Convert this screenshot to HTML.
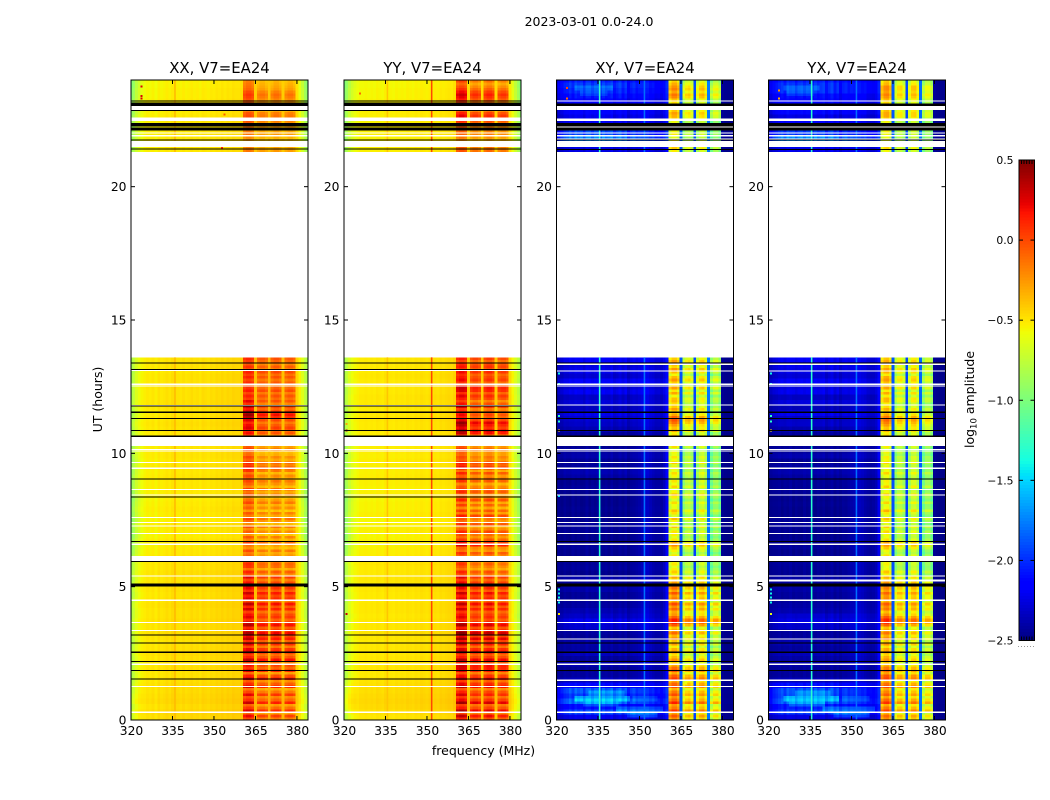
<!DOCTYPE html>
<html lang="en">
<head>
<meta charset="utf-8">
<title>2023-03-01 0.0-24.0 amplitude spectrograms</title>
<style>
html,body{margin:0;padding:0;background:#fff;width:1050px;height:800px;overflow:hidden}
svg{display:block}
text{font-family:"DejaVu Sans","Liberation Sans",sans-serif;fill:#000}
</style>
</head>
<body>
<svg id="figure" xmlns="http://www.w3.org/2000/svg" width="1050" height="800" viewBox="0 0 1050 800">
  <rect width="1050" height="800" fill="#fff"/>
  <text x="589" y="26" font-size="12.5" text-anchor="middle">2023-03-01 0.0-24.0</text>
  <text x="483.5" y="755" font-size="12.5" text-anchor="middle">frequency (MHz)</text>
  <text transform="translate(102,399.5) rotate(-90)" font-size="12.5" text-anchor="middle">UT (hours)</text>
  <text transform="translate(974,399.5) rotate(-90)" font-size="12.5" text-anchor="middle">log<tspan font-size="8.5" dy="2.5">10</tspan><tspan dy="-2.5"> amplitude</tspan></text>
  <g id="panels"></g>
  <g id="colorbar"></g>
</svg>
<script>
// ---------- axis data ----------
const panelTitles = ['XX, V7=EA24', 'YY, V7=EA24', 'XY, V7=EA24', 'YX, V7=EA24'];
const xTickLabels = [320, 335, 350, 365, 380];
const yTickLabels = [0, 5, 10, 15, 20];
const colorbarTicks = [0.5, 0.0, -0.5, -1.0, -1.5, -2.0, -2.5];
const freqDomain = [320, 384];
const hourDomain = [0, 24];
const colorDomain = [-2.5, 0.5];

// observed scans: start hour and number of 0.1 h rows
const scanStarts = [0, 21.3];
const scanRowCounts = [136, 27];

// channels (1 MHz each) carrying the strong in-band signal
const bandChannels = [41, 42, 43, 44, 46, 47, 48, 49, 51, 52, 53, 54, 56, 57, 58, 59];
const leadChannels = [41, 42, 43, 44];

// ---------- log10 amplitude per channel ----------
const xxChannels = [-.85,-.75,-.65,-.59,-.55,-.53,-.51,-.52,-.5,-.53,-.49,-.51,-.5,-.48,-.5,-.47,-.48,-.49,-.5,-.48,-.5,-.49,-.47,-.49,-.48,-.5,-.47,-.48,-.49,-.47,-.48,-.46,-.47,-.45,-.47,-.45,-.46,-.44,-.45,-.45,-.43,-.2,-.15,-.15,-.2,-.38,-.29,-.24,-.24,-.29,-.36,-.28,-.22,-.22,-.27,-.38,-.29,-.24,-.24,-.29,-.44,-.54,-.64,-.76,-.85];
const yyChannels = [-.87,-.76,-.66,-.6,-.56,-.54,-.52,-.52,-.51,-.52,-.51,-.52,-.5,-.51,-.52,-.49,-.5,-.51,-.52,-.5,-.51,-.5,-.51,-.49,-.5,-.51,-.49,-.5,-.48,-.49,-.5,-.48,-.49,-.48,-.49,-.47,-.48,-.47,-.46,-.47,-.44,-.12,-.07,-.07,-.12,-.42,-.22,-.16,-.16,-.22,-.42,-.18,-.12,-.12,-.18,-.42,-.24,-.18,-.18,-.24,-.46,-.56,-.66,-.76,-.87];
const xyChannels = [-2.5,-2.46,-2.48,-2.45,-2.47,-2.48,-2.44,-2.47,-2.45,-2.48,-2.47,-2.44,-2.48,-2.45,-2.47,-2.44,-2.46,-2.47,-2.45,-2.48,-2.44,-2.47,-2.48,-2.45,-2.47,-2.44,-2.48,-2.45,-2.44,-2.42,-2.4,-2.36,-2.32,-2.32,-2.36,-2.4,-2.42,-2.42,-2.42,-2.36,-2.2,-.6,-.46,-.46,-.58,-1.9,-.85,-.7,-.66,-.78,-1.95,-.8,-.62,-.58,-.74,-1.8,-.98,-.8,-.78,-.95,-2.45,-2.47,-2.48,-2.48,-2.48];
const yxChannels = [-2.5,-2.47,-2.46,-2.46,-2.45,-2.48,-2.45,-2.47,-2.44,-2.48,-2.45,-2.47,-2.48,-2.44,-2.47,-2.45,-2.46,-2.48,-2.45,-2.47,-2.45,-2.48,-2.47,-2.44,-2.48,-2.45,-2.47,-2.44,-2.45,-2.42,-2.4,-2.38,-2.34,-2.34,-2.36,-2.4,-2.42,-2.44,-2.42,-2.38,-2.22,-.62,-.48,-.46,-.6,-1.9,-.84,-.68,-.66,-.8,-1.95,-.78,-.6,-.58,-.74,-1.85,-.96,-.78,-.78,-.94,-2.45,-2.47,-2.48,-2.48,-2.48];

// ---------- narrow interference lines [MHz, log10 amplitude] ----------
const xxLines = [[335.9, -.36]];
const yyLines = [[335.7, -.4], [351.7, 0]];
const xyLines = [[335.6, -1.3], [351.8, -1.8]];
const yxLines = [[335.6, -1.3], [351.8, -1.8]];

// ---------- per-channel weight of the quiet-band row offsets ----------
const copolShape = [3,3,2.5,2,1.5,1,1,1,1,1,1,1,1,1,1,1,1,1,1,1,1,1,1,1,1,1,1,1,1,1,1,1,1,1,1,1,1,1,1,1,1,0,0,0,0,1,0,0,0,0,1,0,0,0,0,1,0,0,0,0,1,1.5,2,2.5,3];
const crossShape = [.5,.7,.9,1,1.1,1.3,1,1.35,1.15,1.3,1,1.25,1.35,1.05,1.3,1.2,1,1.35,1.1,1.25,1.3,1,1.2,1.3,1.05,1.2,.85,1,1.1,.85,.9,.8,.7,.7,.65,.8,.65,.7,.6,.6,.5,0,0,0,0,.1,0,0,0,0,.1,0,0,0,0,.1,0,0,0,0,.05,.05,.05,.05,.05];

// in-band stripe contrast relative to the row tables below
const bandContrast = 1.5;

// ---------- in-band row offsets (centidex, one per 0.1 h observed row) ----------
const xxBandRows = [5,18,-3,22,8,-2,25,10,3,20, 6,-4,24,12,2,26,15,-2,22,10, 18,5,28,14,8,25,20,6,22,12, 26,18,30,22,12,28,24,10,20,16, 8,24,14,28,6,22,16,26,12,20, 24,16,6,20,2,12,-4,8,10,2, 0,0,-4,6,-8,-2,8,-6,4,-10, 2,-6,6,-8,0,8,-4,4,-10,2, -6,6,-2,-10,4,-4,8,-8,0,6, -4,2,-8,6,12,4,8,-4,2,-6, -8,4,-2,0,6,0,0,14,10,18, 12,6,16,22,28,20,10,16,4,14, 8,14,6,16,10,4,12,6,14,8, 16,6,12,4,10,14, -2,-4,-8,-4,-10,-6,-2,-4,-6,-2, 0,4,2,6,4,-4,-8,-2,0,2, 6,8,4,-2,-4,-6,-8];
const yyBandRows = [8,22,0,26,10,2,28,14,4,18, 10,-2,24,16,4,22,14,0,18,20, 22,8,26,12,6,24,18,4,20,14, 28,14,32,24,10,26,22,8,16,12, 6,20,10,24,4,18,12,22,6,16, 22,14,4,16,0,8,-8,-2,4,-4, -4,0,8,-6,-2,22,14,6,-4,2, 10,-2,-8,8,-4,0,12,-6,6,-10, 4,-8,10,-4,-6,8,2,-2,-10,6, 2,-4,8,-8,14,6,10,-4,0,-6, -6,2,-4,0,0,0,0,22,26,14, 20,26,12,6,10,4,0,14,8,-2, 10,16,6,18,20,8,4,14,10,6, 16,8,14,10,4,12, 2,0,-6,-10,-12,-6,-2,-4,0,-2, 2,8,12,16,10,0,-6,-2,2,8, 14,18,12,4,-2,-8,0];
const xyBandRows = [10,22,6,30,14,8,34,18,10,24, 16,4,26,20,8,30,22,6,24,18, 8,-2,14,4,-4,12,6,-6,10,2, 12,2,18,10,-2,22,32,36,20,8, 6,20,12,26,4,16,10,24,8,18, 20,12,0,10,-8,2,-6,-12,-4,-10, -10,-4,-14,-6,2,16,10,-4,-12,-6, -2,-12,4,-10,-6,8,-14,-2,6,-10, -8,0,-14,-4,8,-6,-12,2,-8,-2, -14,-6,0,-10,-4,-12,4,-8,-2,-10, -8,-14,-2,-6,0,0,0,-6,10,4, 8,18,24,20,6,-4,8,-2,-6,2, 4,-8,10,-4,12,-6,2,14,6,-8, 6,14,0,8,12,2, -4,4,-2,-8,-6,-10,-4,-8,-10,-6, -12,-8,4,8,12,4,0,10,-4,2, 14,18,8,16,12,6,-2];
const yxBandRows = [12,20,4,28,16,6,32,20,8,22, 14,6,28,18,6,28,24,8,20,16, 6,0,12,6,-2,10,8,-4,12,0, 14,4,16,8,0,20,30,34,22,10, 4,18,14,24,6,14,12,22,10,16, 18,14,2,8,-6,4,-8,-10,-6,-8, -12,-2,-12,-8,4,14,12,-2,-10,-8, 0,-10,2,-12,-4,6,-12,-4,8,-8, -10,2,-12,-6,6,-8,-10,4,-6,-4, -12,-8,2,-8,-6,-10,2,-6,-4,-12, -6,-12,-4,-4,0,0,0,-4,8,6, 10,16,22,18,8,-2,6,-4,-8,4, 6,-6,8,-6,10,-4,4,12,8,-6, 8,12,2,6,10,4, -6,2,-4,-6,-8,-8,-6,-6,-8,-8, -10,-6,2,10,10,6,-2,8,-2,4, 12,16,10,14,14,4,0];

// ---------- quiet-band row offsets (centidex, one per 0.2 h observed row) ----------
const xxQuietRows = [3,4,2,4,3,2,2,1,0,1,0,1,2,1,0,1,2,1,2,1,1,2,1,0,1, 1,0,1,0,0, -1,-2,-3,-2,-4,-3,-2,-4,-3,-2,-3,-4,-3,-2,-2,-1,-2,-1,-2,-1,-1,-2,-1, -1,0,1,0,-1,0,1,0,0,1,0,0,-1,0,0, -2,-3,-2,-2,-3,-2,-2,-3,-2,-3,-4,-4,-5,-5];
const yyQuietRows = [1,3,5,6,5,4,3,2,0,1,0,1,0,1,0,1,2,1,1,0,1,1,0,0,1, 0,1,0,0,1, -1,-2,-3,-3,-4,-2,-3,-4,-2,-3,-3,-4,-2,-3,-2,-1,-2,-2,-1,-2,-1,-2,-1, -1,0,0,1,0,-1,0,1,0,0,0,1,0,0,0, -2,-2,-3,-2,-2,-3,-2,-2,-3,-3,-4,-4,-5,-5];
const xyQuietRows = [20,45,30,55,42,50,28,10, 4,2,8,3,10,4,6,2,4,14,20,12,8,4,2,2,6, 2,6,0,3,2, 0,1,3,0,0,2,3,0,0,1,0,0,1,3,1,5,8,3,2,6,4,1,0, 2,8,12,14,20,10,16,12,22,16,24,14,20,18,24, 18,50,60,45,60,22,20,26,30,25,32,38,42,35];
const yxQuietRows = [18,42,34,52,46,48,30,9, 3,3,6,5,9,3,7,3,3,13,18,14,7,5,2,3,5, 3,5,1,2,3, 1,0,3,1,0,1,3,1,0,0,1,0,2,2,2,4,7,4,1,7,3,2,0, 3,7,13,12,21,9,17,11,21,18,23,15,19,21,23, 20,48,62,42,58,24,18,28,28,27,30,40,40,34];

// ---------- brighter low-band patches [startHour, endHour, startChannel, endChannel, added level] ----------
const xyPatches = [[.5,.7,10,22,.2],[.7,.9,7,26,.3],[.9,1.1,12,24,.2],[.1,.3,26,36,.3],[.3,.5,22,38,.25],[.7,.9,28,36,.12],[23.4,23.6,9,18,.12],[23.6,23.8,7,20,.15]];
const yxPatches = [[.5,.7,8,20,.2],[.7,.9,6,25,.3],[.9,1.1,10,22,.2],[.1,.3,24,36,.3],[.3,.5,20,38,.25],[.7,.9,27,36,.12],[23.4,23.6,7,16,.12],[23.6,23.8,6,18,.15]];
const noPatches = [];

// ---------- extra boost of the first band, one per hour (centidex) ----------
const xxLeadHours = [10,8,8,10,8,10,6,6,8,14,14,18,8,6,0,0,0,0,0,0,0,4,6,10];
const yyLeadHours = [8,6,6,8,6,8,4,4,6,8,10,14,8,4,0,0,0,0,0,0,0,2,6,10];
const xyLeadHours = [10,8,4,10,8,2,2,0,0,0,2,8,2,2,0,0,0,0,0,0,0,0,2,6];
const yxLeadHours = [8,8,6,10,6,2,2,2,0,0,0,6,4,2,0,0,0,0,0,0,0,0,2,6];

// ---------- flagged samples [hour, channel, log10 amplitude] ----------
const xxSpecks = [[23.75,4,.25],[23.4,4,.25],[23.3,4,.25],[22.7,34,-.05],[21.45,33,.1]];
const yySpecks = [[3.97,1,.3],[10.85,1,.3],[11.1,1,-.3],[23.5,6,-.1]];
const xySpecks = [[3.97,1,-.5],[4.4,1,-1.4],[4.6,1,-1.4],[4.75,1,-1.4],[4.9,1,-1.4],[23.7,4,0],[23.3,4,-.1],[10.85,1,-.4],[11.2,1,-1.3],[11.4,1,-1.3],[12.6,1,-1.4],[13.0,1,-1.4],[8.4,1,-1.5],[1.37,47,-.6]];
const yxSpecks = [[3.97,1,-.6],[4.4,1,-1.4],[4.6,1,-1.4],[4.75,1,-1.4],[4.9,1,-1.4],[23.6,4,-.2],[23.3,4,-.3],[10.85,1,-.5],[11.2,1,-1.3],[11.4,1,-1.3],[12.6,1,-1.4],[13.0,1,-1.4]];

// ---------- flagged time ranges, hours [start, end] ----------
const copolWhiteRanges = [[.27,.31],[1.24,1.28],[2.07,2.11],[3.34,3.38],[3.64,3.68],[4.47,4.51],[5.38,5.42],[5.96,6.15],[6.57,6.61],[6.98,7.02],[7.25,7.29],[7.39,7.43],[7.58,7.62],[8.41,8.45],[8.63,8.67],[9.42,9.46],[9.64,9.68],[10.07,10.11],[10.13,10.17],[10.27,10.62],[11.77,11.81],[12.5,12.54],[12.57,12.61],[13.08,13.12],[21.49,21.72],[21.89,21.93],[22.0,22.04],[22.46,22.59],[22.85,23.02]];
const copolBlackRanges = [[1.51,1.55],[1.84,1.88],[2.18,2.22],[2.52,2.56],[2.86,2.9],[3.16,3.2],[5.01,5.12],[5.93,5.97],[6.68,6.72],[8.34,8.38],[9.01,9.05],[10.62,10.66],[10.84,10.88],[11.29,11.33],[11.52,11.56],[11.76,11.8],[13.13,13.17],[13.36,13.4],[21.39,21.43],[21.73,21.77],[22.11,22.22],[22.25,22.39],[22.83,22.87],[23.03,23.15],[23.2,23.24]];
const crossWhiteRanges = [[.27,.31],[1.24,1.28],[1.47,1.51],[2.07,2.11],[3.01,3.05],[3.34,3.38],[3.64,3.68],[4.47,4.51],[5.2,5.27],[5.38,5.42],[5.96,6.15],[6.57,6.61],[6.98,7.02],[7.25,7.29],[7.39,7.43],[7.58,7.62],[8.41,8.45],[8.63,8.67],[9.42,9.46],[9.64,9.68],[10.07,10.11],[10.13,10.17],[10.27,10.62],[11.79,11.83],[12.5,12.54],[12.57,12.61],[13.06,13.1],[13.32,13.36],[21.49,21.72],[21.78,21.81],[21.89,21.93],[22.0,22.04],[22.21,22.25],[22.47,22.56],[22.87,23.03],[23.2,23.24]];
const crossBlackRanges = [[1.84,1.88],[2.18,2.22],[2.52,2.56],[2.86,2.9],[5.01,5.12],[5.93,5.97],[6.68,6.72],[9.01,9.05],[10.62,10.66],[10.84,10.88],[11.29,11.33],[11.52,11.56],[13.36,13.4],[21.37,21.41],[21.73,21.77],[22.11,22.21],[22.25,22.38],[23.03,23.12]];

// ---------- panel layout ----------
const panelLefts = [131, 344, 556.5, 768.5];
const panelChannels = [xxChannels, yyChannels, xyChannels, yxChannels];
const panelLines = [xxLines, yyLines, xyLines, yxLines];
const panelBandRows = [xxBandRows, yyBandRows, xyBandRows, yxBandRows];
const panelQuietRows = [xxQuietRows, yyQuietRows, xyQuietRows, yxQuietRows];
const panelLeadHours = [xxLeadHours, yyLeadHours, xyLeadHours, yxLeadHours];
const panelSpecks = [xxSpecks, yySpecks, xySpecks, yxSpecks];
const panelPatches = [noPatches, noPatches, xyPatches, yxPatches];
const panelShapes = [copolShape, copolShape, crossShape, crossShape];
const panelWhite = [copolWhiteRanges, copolWhiteRanges, crossWhiteRanges, crossWhiteRanges];
const panelBlack = [copolBlackRanges, copolBlackRanges, crossBlackRanges, crossBlackRanges];
const panelWidth = 177;
const plotTop = 80;
const plotBottom = 720;

const NS = 'http://www.w3.org/2000/svg';
function mk(tag, parent, attrs) {
  const el = document.createElementNS(NS, tag);
  for (const k in attrs) el.setAttribute(k, attrs[k]);
  parent.appendChild(el);
  return el;
}
function yScale(hour) {
  return plotBottom - (hour - hourDomain[0]) / (hourDomain[1] - hourDomain[0]) * (plotBottom - plotTop);
}
function xScale(left, mhz) {
  return left + (mhz - freqDomain[0]) / (freqDomain[1] - freqDomain[0]) * panelWidth;
}
function interp(pts, t) {
  for (let i = 1; i < pts.length; i++) {
    if (t <= pts[i][0]) {
      const a = pts[i - 1], b = pts[i];
      return a[1] + (b[1] - a[1]) * (t - a[0]) / (b[0] - a[0]);
    }
  }
  return pts[pts.length - 1][1];
}
const jetR = [[0,0],[.35,0],[.66,1],[.89,1],[1,.5]];
const jetG = [[0,0],[.125,0],[.375,1],[.64,1],[.91,0],[1,0]];
const jetB = [[0,.5],[.11,1],[.34,1],[.65,0],[1,0]];
function colorOf(value) {
  const t = Math.max(0, Math.min(1, (value - colorDomain[0]) / (colorDomain[1] - colorDomain[0])));
  return 'rgb(' + Math.round(interp(jetR, t) * 255) + ',' + Math.round(interp(jetG, t) * 255) + ',' + Math.round(interp(jetB, t) * 255) + ')';
}

const bandSet = new Set(bandChannels);
const leadSet = new Set(leadChannels);
const panelsRoot = document.getElementById('panels');

panelTitles.forEach(function (title, p) {
  const left = panelLefts[p];
  const panel = mk('g', panelsRoot, {});
  
  

  const clipId = 'clip' + p;
  const clip = mk('clipPath', panel, { id: clipId });
  mk('rect', clip, { x: left, y: plotTop, width: panelWidth, height: plotBottom - plotTop });

  const heat = mk('g', panel, { 'clip-path': 'url(#' + clipId + ')', 'shape-rendering': 'crispEdges' });
  
  

  const channels = panelChannels[p];
  let rowIndex = 0;
  scanStarts.forEach(function (start, s) {
    for (let r = 0; r < scanRowCounts[s]; r++, rowIndex++) {
      const hour = start + r * 0.1;
      const yTop = yScale(hour + 0.1);
      const h = yScale(hour) - yTop;
      const bandOffset = bandContrast * (panelBandRows[p][rowIndex] || 0) / 100;
      const quietOffset = (panelQuietRows[p][Math.floor(rowIndex / 2)] || 0) / 100;
      const lead = (panelLeadHours[p][Math.floor(hour)] || 0) / 100;
      channels.forEach(function (level, c) {
        let value;
        if (bandSet.has(c)) {
          value = level + bandOffset + (leadSet.has(c) ? lead : 0);
        } else {
          value = level + quietOffset * panelShapes[p][c];
          panelPatches[p].forEach(function (pt) {
            if (hour >= pt[0] && hour < pt[1] && c >= pt[2] && c <= pt[3]) value += pt[4];
          });
        }
        const x0 = xScale(left, freqDomain[0] + c - 0.5);
        const x1 = xScale(left, freqDomain[0] + c + 0.5);
        const cell = mk('rect', heat, { x: x0, y: yTop, width: x1 - x0, height: h, fill: colorOf(value) });
        
        
      });
    }
    panelLines[p].forEach(function (ln) {
      const yEnd = yScale(start + scanRowCounts[s] * 0.1);
      const lineMark = mk('rect', heat, { x: xScale(left, ln[0] - 0.28), y: yEnd, width: xScale(left, ln[0] + 0.28) - xScale(left, ln[0] - 0.28), height: yScale(start) - yEnd, fill: colorOf(ln[1]), 'shape-rendering': 'geometricPrecision' });
      
      
    });
  });

  panelSpecks[p].forEach(function (sp) {
    const x0 = xScale(left, freqDomain[0] + sp[1] - 0.5);
    const speck = mk('rect', heat, { x: x0, y: yScale(sp[0]) - 1, width: 2, height: 2, fill: colorOf(sp[2]) });
    
    
  });

  panelWhite[p].forEach(function (rg) {
    const gap = mk('rect', heat, { x: left, y: yScale(rg[1]), width: panelWidth, height: Math.max(1, yScale(rg[0]) - yScale(rg[1])), fill: '#fff' });
    
    
  });
  panelBlack[p].forEach(function (rg) {
    const line = mk('rect', heat, { x: left, y: yScale(rg[1]), width: panelWidth, height: Math.max(1, yScale(rg[0]) - yScale(rg[1])), fill: '#000' });
    
    
  });

  const frame = mk('rect', panel, { x: left, y: plotTop, width: panelWidth, height: plotBottom - plotTop, fill: 'none', stroke: '#000', 'stroke-width': 1 });
  
  

  const titleEl = mk('text', panel, { x: left + panelWidth / 2, y: 73, 'font-size': 14.9, 'text-anchor': 'middle' });
  titleEl.textContent = title;
  
  

  xTickLabels.forEach(function (v) {
    const x = xScale(left, v);
    const tickB = mk('line', panel, { x1: x, x2: x, y1: plotBottom, y2: plotBottom - 4, stroke: '#000', 'stroke-width': 1 });
    
    
    const tickT = mk('line', panel, { x1: x, x2: x, y1: plotTop, y2: plotTop + 4, stroke: '#000', 'stroke-width': 1 });
    
    
    const lab = mk('text', panel, { x: x + 0.5, y: 735, 'font-size': 12.3, 'text-anchor': 'middle' });
    lab.textContent = v;
    
    
  });
  yTickLabels.forEach(function (v) {
    const y = yScale(v);
    const tickL = mk('line', panel, { x1: left, x2: left + 4, y1: y, y2: y, stroke: '#000', 'stroke-width': 1 });
    
    
    const tickR = mk('line', panel, { x1: left + panelWidth - 4, x2: left + panelWidth, y1: y, y2: y, stroke: '#000', 'stroke-width': 1 });
    
    
    const lab = mk('text', panel, { x: left - 4.5, y: y + 4.5, 'font-size': 12.3, 'text-anchor': 'end' });
    lab.textContent = v;
    
    
  });
});

// ---------- colorbar ----------
const cbarRoot = document.getElementById('colorbar');
const cbarLeft = 1019, cbarRight = 1034.5, cbarTop = 160, cbarBottom = 640.5;
function cbarY(v) {
  return cbarBottom - (v - colorDomain[0]) / (colorDomain[1] - colorDomain[0]) * (cbarBottom - cbarTop);
}
const cbarSteps = 160;
for (let i = 0; i < cbarSteps; i++) {
  const v0 = colorDomain[0] + (colorDomain[1] - colorDomain[0]) * i / cbarSteps;
  const v1 = colorDomain[0] + (colorDomain[1] - colorDomain[0]) * (i + 1) / cbarSteps;
  const seg = mk('rect', cbarRoot, { x: cbarLeft, y: cbarY(v1), width: cbarRight - cbarLeft, height: cbarY(v0) - cbarY(v1) + 0.5, fill: colorOf((v0 + v1) / 2), 'shape-rendering': 'crispEdges' });
  
  
}
const cbarFrame = mk('rect', cbarRoot, { x: cbarLeft, y: cbarTop, width: cbarRight - cbarLeft, height: cbarBottom - cbarTop, fill: 'none', stroke: '#000', 'stroke-width': 1 });


colorbarTicks.forEach(function (v) {
  const y = cbarY(v);
  const t1 = mk('line', cbarRoot, { x1: cbarLeft, x2: cbarLeft + 4, y1: y, y2: y, stroke: '#000', 'stroke-width': 1 });
  
  
  const t2 = mk('line', cbarRoot, { x1: cbarRight - 4, x2: cbarRight, y1: y, y2: y, stroke: '#000', 'stroke-width': 1 });
  
  
  const lab = mk('text', cbarRoot, { x: 1013.5, y: y + 4, 'font-size': 10.8, 'text-anchor': 'end' });
  lab.textContent = (v < 0 ? '\u2212' : '') + Math.abs(v).toFixed(1);
  
  
});
[1021.5, 1024, 1026.7, 1029.3, 1032].forEach(function (x) {
  const top = mk('line', cbarRoot, { x1: x, x2: x, y1: cbarTop, y2: cbarTop + 4, stroke: '#000', 'stroke-width': 1 });
  
  
  const bot = mk('line', cbarRoot, { x1: x, x2: x, y1: cbarBottom, y2: cbarBottom - 4, stroke: '#000', 'stroke-width': 1 });
  
  
});
const cbarDots = mk('line', cbarRoot, { x1: 1018, x2: 1035, y1: 646.5, y2: 646.5, stroke: '#999', 'stroke-width': 1, 'stroke-dasharray': '1 2' });


</script>
</body>
</html>
